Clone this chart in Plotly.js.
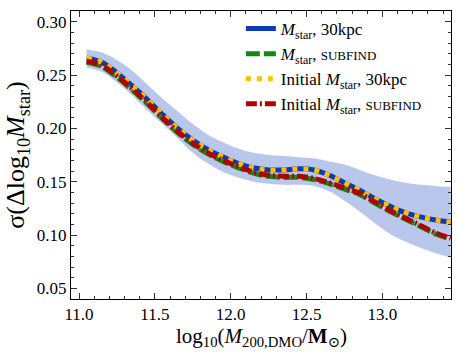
<!DOCTYPE html>
<html>
<head>
<meta charset="utf-8">
<script src="https://cdn.plot.ly/plotly-3.0.1.min.js"></script>
<style>html,body{margin:0;padding:0;background:#fff;}#chart{width:463px;height:356px;}</style>
</head>
<body>
<div id="chart"></div>
<script>
const logM = [11.05,11.15,11.25,11.35,11.45,11.55,11.65,11.75,11.85,11.95,12.05,12.15,12.25,12.35,12.45,12.55,12.65,12.75,12.85,12.95,13.05,13.15,13.25,13.35,13.45];
const mstar30 = [0.266,0.262,0.252,0.240,0.227,0.213,0.200,0.189,0.180,0.173,0.167,0.163,0.161,0.161,0.162,0.161,0.156,0.149,0.142,0.134,0.127,0.121,0.117,0.114,0.112];
const mstarSub = [0.262,0.258,0.248,0.236,0.223,0.209,0.196,0.185,0.176,0.169,0.163,0.158,0.155,0.154,0.154,0.152,0.148,0.143,0.138,0.130,0.122,0.115,0.108,0.101,0.096];
const initMstar30 = [0.266,0.262,0.252,0.240,0.227,0.213,0.200,0.189,0.180,0.173,0.167,0.163,0.161,0.161,0.162,0.161,0.156,0.149,0.142,0.134,0.127,0.121,0.117,0.114,0.112];
const initMstarSub = [0.263,0.259,0.249,0.237,0.224,0.210,0.197,0.186,0.177,0.170,0.164,0.159,0.156,0.155,0.155,0.153,0.149,0.144,0.139,0.131,0.123,0.116,0.109,0.102,0.097];
const bandUpper = [0.274,0.271,0.264,0.254,0.241,0.228,0.216,0.204,0.194,0.187,0.181,0.177,0.175,0.174,0.173,0.172,0.169,0.166,0.161,0.156,0.152,0.149,0.147,0.146,0.145];
const bandLower = [0.257,0.253,0.243,0.231,0.217,0.204,0.191,0.177,0.167,0.159,0.154,0.150,0.148,0.147,0.147,0.146,0.141,0.132,0.122,0.111,0.101,0.094,0.088,0.083,0.079];
const seriesNames = ["<i>M</i><sub>star</sub>, 30kpc", "<i>M</i><sub>star</sub>, <span style=\"font-size:13px\">SUBFIND</span>", "Initial <i>M</i><sub>star</sub>, 30kpc", "Initial <i>M</i><sub>star</sub>, <span style=\"font-size:13px\">SUBFIND</span>"];
const xTitle = 'log<sub>10</sub>(<i>M</i><sub>200,DMO</sub>/<b>M</b><sub>⊙</sub>)';
const yTitle = 'σ(Δlog<sub>10</sub><i>M</i><sub>star</sub>)';
const xTickVals = [11.0,11.5,12.0,12.5,13.0];
const xTickText = ["11.0","11.5","12.0","12.5","13.0"];
const yTickVals = [0.05,0.10,0.15,0.20,0.25,0.30];
const yTickText = ["0.05","0.10","0.15","0.20","0.25","0.30"];

const W = 5;
const traces = [
  {x: logM, y: bandLower, mode:'lines', line:{width:0, shape:'spline'}, showlegend:false, hoverinfo:'skip'},
  {x: logM, y: bandUpper, mode:'lines', line:{width:0, shape:'spline'}, fill:'tonexty', fillcolor:'rgb(186,199,236)', showlegend:false, hoverinfo:'skip'},
  {x: logM, y: mstar30, name: seriesNames[0], mode:'lines', line:{color:'rgb(14,58,178)', width:W, shape:'spline'}},
  {x: logM, y: mstarSub, name: seriesNames[1], mode:'lines', line:{color:'rgb(18,138,18)', width:W, shape:'spline', dash:'14px,4px'}},
  {x: logM, y: initMstar30, name: seriesNames[2], mode:'lines', line:{color:'rgb(255,192,0)', width:W, shape:'spline', dash:'5px,6px'}},
  {x: logM, y: initMstarSub, name: seriesNames[3], mode:'lines', line:{color:'rgb(178,0,0)', width:W, shape:'spline', dash:'11px,3px,2px,3px'}}
];

const serif = 'Liberation Serif, DejaVu Serif, serif';
const axisCommon = {
  showgrid:false, zeroline:false, showline:true, linecolor:'#000', linewidth:1, mirror:'ticks',
  ticks:'inside', ticklen:6, tickwidth:1, tickcolor:'#333',
  tickfont:{family:serif, size:17, color:'#000'}
};
const layout = {
  width:463, height:356,
  margin:{l:71, r:12, t:11, b:57},
  paper_bgcolor:'#fff', plot_bgcolor:'#fff',
  xaxis: Object.assign({}, axisCommon, {
    range:[10.947,13.452], tickvals:xTickVals, ticktext:xTickText,
    minor:{dtick:0.1, tick0:11, ticks:'inside', ticklen:3, tickcolor:'#333'}
  }),
  yaxis: Object.assign({}, axisCommon, {
    range:[0.04,0.31], tickvals:yTickVals, ticktext:yTickText,
    minor:{dtick:0.01, tick0:0, ticks:'inside', ticklen:3, tickcolor:'#333'},
    title:{text:yTitle, font:{family:serif, size:26, color:'#000'}, standoff:4}
  }),
  annotations:[{text:xTitle, xref:'paper', yref:'paper', x:0.5, y:-0.08, xanchor:'center', yanchor:'top',
    showarrow:false, font:{family:serif, size:21, color:'#000'}}],
  legend:{x:0.447, y:1.0, xanchor:'left', yanchor:'top', bgcolor:'rgba(0,0,0,0)', borderwidth:0,
    traceorder:'normal', font:{family:serif, size:17, color:'#000'}, tracegroupgap:0},
  showlegend:true
};
Plotly.newPlot('chart', traces, layout, {staticPlot:true, displayModeBar:false});
</script>
</body>
</html>
